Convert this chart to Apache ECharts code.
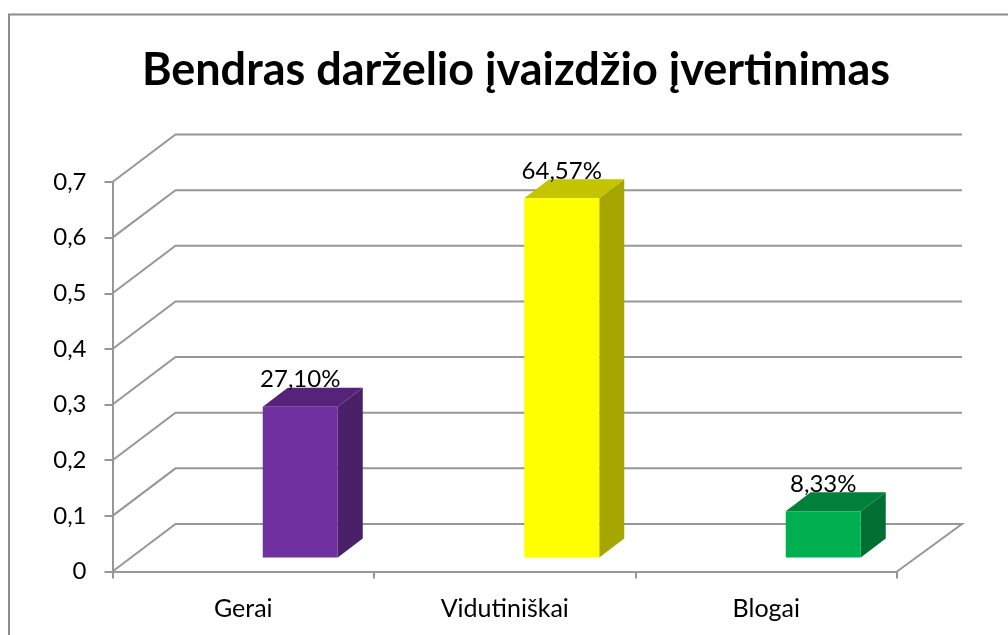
<!DOCTYPE html>
<html>
<head>
<meta charset="utf-8">
<title>Bendras darželio įvaizdžio įvertinimas</title>
<style>
  html, body { margin: 0; padding: 0; background: #fff; }
  #main { width: 1008px; height: 635px; }
</style>
<script src="https://cdn.jsdelivr.net/npm/echarts@6/dist/echarts.min.js"></script>
</head>
<body>
<div id="main"></div>
<script>
var categories = ['Gerai', 'Vidutiniškai', 'Blogai'];
var values = [0.271, 0.6457, 0.0833];
var gridValues = [0, 0.1, 0.2, 0.3, 0.4, 0.5, 0.6, 0.7];
var frontColors = ['#7030A0', '#FFFF00', '#00B050'];
var topColors = ['#552379', '#C4C400', '#008038'];
var sideColors = ['#4A2069', '#A6A600', '#006F31'];

var fontName = 'Lato';
var lineColor = '#979797';
// depth of the floor and of the bars, in pixels
var wallDx = 63, wallDy = -47.5;
var barDx = 25, barDy = -19;
var barShiftX = 57, barShiftY = -14, barWidth = 75;

function renderWall(params, api) {
  var sys = params.coordSys;
  var p = api.coord([0, api.value(1)]);
  var pts = [
    [sys.x, p[1]],
    [sys.x + wallDx, p[1] + wallDy],
    [sys.x + sys.width + wallDx + 2, p[1] + wallDy]
  ];
  if (api.value(1) === 0) {
    // floor closes on the right side
    pts.push([sys.x + sys.width, p[1]]);
  }
  return {
    type: 'polyline',
    shape: { points: pts },
    style: { fill: null, stroke: lineColor, lineWidth: 2 }
  };
}

function renderBar(params, api) {
  var i = params.dataIndex;
  var top = api.coord([api.value(0), api.value(1)]);
  var base = api.coord([api.value(0), 0]);
  var x0 = top[0] + barShiftX - barWidth / 2;
  var x1 = x0 + barWidth;
  var y0 = top[1] + barShiftY;
  var y1 = base[1] + barShiftY;
  var label = (api.value(1) * 100).toFixed(2).replace('.', ',') + '%';
  return {
    type: 'group',
    children: [
      {
        type: 'polygon',
        shape: { points: [[x1, y0], [x1 + barDx, y0 + barDy], [x1 + barDx, y1 + barDy], [x1, y1]] },
        style: { fill: sideColors[i] }
      },
      {
        type: 'polygon',
        shape: { points: [[x0, y0], [x0 + barDx, y0 + barDy], [x1 + barDx, y0 + barDy], [x1, y0]] },
        style: { fill: topColors[i] }
      },
      {
        type: 'rect',
        shape: { x: x0, y: y0, width: barWidth, height: y1 - y0 },
        style: { fill: frontColors[i] }
      },
      {
        type: 'text',
        style: {
          text: label,
          x: (x0 + x1) / 2,
          y: y0 - 27,
          align: 'center',
          verticalAlign: 'middle',
          font: '24px ' + fontName,
          fill: '#000'
        }
      }
    ]
  };
}

var chart = echarts.init(document.getElementById('main'), null, { renderer: 'canvas' });
chart.setOption({
  animation: false,
  backgroundColor: '#fff',
  title: {
    text: 'Bendras darželio įvaizdžio įvertinimas',
    left: 511,
    top: 43,
    textAlign: 'center',
    textStyle: { fontFamily: fontName, fontSize: 45, fontWeight: 'bold', color: '#000' }
  },
  graphic: [{
    type: 'polyline',
    shape: { points: [[9, 635], [9, 14.5], [1008, 14.5]] },
    style: { fill: null, stroke: '#8c8c8c', lineWidth: 2 },
    silent: true
  }],
  grid: { left: 112.5, right: 111, top: 182, bottom: 63.5 },
  xAxis: {
    type: 'category',
    data: categories,
    axisLine: { lineStyle: { color: lineColor, width: 2 } },
    axisTick: { show: true, length: 7, lineStyle: { color: lineColor, width: 2 } },
    axisLabel: { fontFamily: fontName, fontSize: 25, color: '#000', margin: 25 }
  },
  yAxis: {
    type: 'value',
    min: 0,
    max: 0.7,
    interval: 0.1,
    splitLine: { show: false },
    axisLine: { show: true, lineStyle: { color: lineColor, width: 2 } },
    axisTick: { show: true, length: 8, lineStyle: { color: lineColor, width: 2 } },
    axisLabel: {
      fontFamily: fontName,
      fontSize: 24,
      color: '#000',
      margin: 26,
      formatter: function (v) { return String(v).replace('.', ','); }
    }
  },
  series: [
    {
      type: 'custom',
      name: 'walls',
      renderItem: renderWall,
      clip: false,
      silent: true,
      z: 1,
      data: gridValues.map(function (v) { return [0, v]; })
    },
    {
      type: 'custom',
      name: 'bars',
      renderItem: renderBar,
      clip: false,
      z: 3,
      data: values.map(function (v, i) { return [i, v]; })
    }
  ]
});
</script>
</body>
</html>
